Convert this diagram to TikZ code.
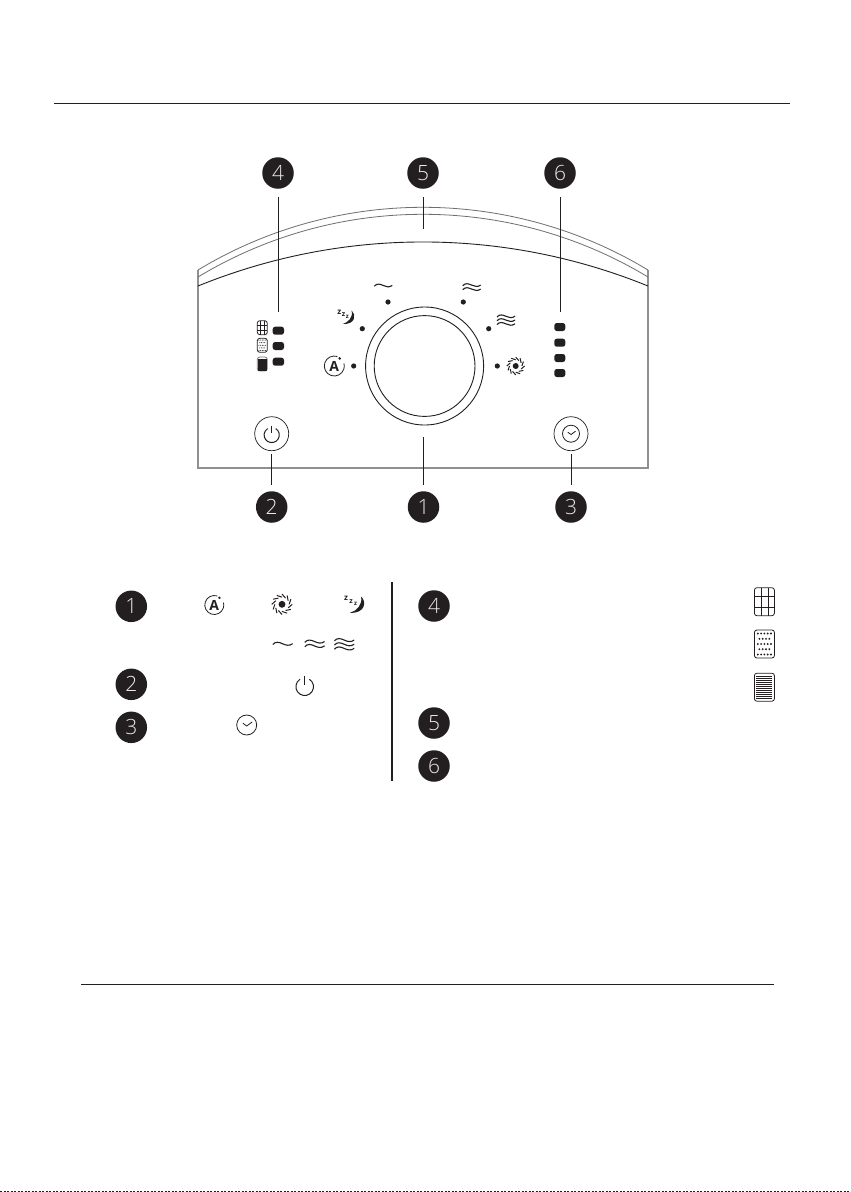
\documentclass[tikz,border=0pt]{standalone}
\usepackage{fontspec}
\setmainfont{Open Sans}[UprightFont=* Light,BoldFont=* Bold]
\definecolor{ink}{HTML}{231F20}
\tikzset{
  numdot/.style={circle,fill=ink,text=white!92!black,minimum size=31.5pt,inner sep=0pt,font=\fontsize{21}{21}\selectfont},
  lead/.style={draw=ink,line width=1pt},
  rule/.style={draw=ink,line width=0.9pt},
  thin/.style={draw=ink,line width=0.7pt},
  arcline/.style={draw=ink!65,line width=0.8pt},
  edgeline/.style={draw=ink!50,line width=1.3pt},
  led/.style={fill=ink,rounded corners=2.5pt},
  dot/.style={fill=ink}
}
\newcommand\iconA[3]{\begin{scope}[shift={(#1pt,-#2pt)},scale=#3]
  \draw[ink,line width=0.8pt] (72:10) arc[start angle=72,end angle=375,radius=10];
  \fill[ink] (5.4,7.6) circle (1.4);
  \node[inner sep=0,text=ink,font=\fontsize{14}{14}\selectfont\bfseries] at (0,-0.6) {A};
\end{scope}}
\newcommand\iconFan[3]{\begin{scope}[shift={(#1pt,-#2pt)},scale=#3]
  \fill[ink] (0,0) circle (3);
  \foreach \a in {0,30,...,330}{\draw[ink,line width=1pt] (\a:6.2) to[bend right=8] (\a+30:8.9);}
\end{scope}}
\newcommand\iconMoon[3]{\begin{scope}[shift={(#1pt,-#2pt)},scale=#3]
  \fill[ink] (6,8.5) .. controls (11.5,4) and (11,-8.5) .. (-5,-7.8) .. controls (2,-6) and (8,1) .. (6,8.5) -- cycle;
  \node[inner sep=0,text=ink,font=\fontsize{8}{8}\selectfont\bfseries] at (-9,6.2) {z};
  \node[inner sep=0,text=ink,font=\fontsize{7}{7}\selectfont\bfseries] at (-4,3.2) {z};
  \node[inner sep=0,text=ink,font=\fontsize{6}{6}\selectfont\bfseries] at (0.7,1) {z};
\end{scope}}
\newcommand\wavep[1]{(-9,-0.5+#1) .. controls (-6.5,2.5+#1) and (-3.5,1.8+#1) .. (0,0.2+#1) .. controls (3,-1.2+#1) and (6,-2+#1) .. (9,0.3+#1)}
\newcommand\iconWa[3]{\begin{scope}[shift={(#1pt,-#2pt)},scale=#3]
  \draw[ink,line width=1.1pt] \wavep{0};
\end{scope}}
\newcommand\iconWb[3]{\begin{scope}[shift={(#1pt,-#2pt)},scale=#3]
  \draw[ink,line width=1.1pt] \wavep{2} \wavep{-2};
\end{scope}}
\newcommand\iconWc[3]{\begin{scope}[shift={(#1pt,-#2pt)},scale=#3]
  \draw[ink,line width=1.1pt] \wavep{3.8} \wavep{0} \wavep{-3.8};
\end{scope}}
\newcommand\iconPower[3]{\begin{scope}[shift={(#1pt,-#2pt)},scale=#3]
  \draw[ink,line width=1pt] (58:8) arc[start angle=58,end angle=-238,radius=8];
  \draw[ink,line width=1.2pt] (0,10) -- (0,2);
\end{scope}}
\newcommand\iconClock[3]{\begin{scope}[shift={(#1pt,-#2pt)},scale=#3]
  \draw[ink,line width=0.8pt] (0,0) circle (10);
  \draw[ink,line width=0.8pt] (-3.8,1.8) -- (0,-1) -- (5.4,3);
\end{scope}}
\newcommand\iconGrid[3]{\begin{scope}[shift={(#1pt,-#2pt)},scale=#3]
  \draw[ink,line width=0.8pt,rounded corners=2.5pt] (-10,-14) rectangle (10,14);
  \draw[ink,line width=0.8pt] (-3.5,14) -- (-3.5,-14) (3.5,14) -- (3.5,-14) (-10,5) -- (10,5) (-10,-5.5) -- (10,-5.5);
\end{scope}}
\newcommand\iconHoles[3]{\begin{scope}[shift={(#1pt,-#2pt)},scale=#3]
  \draw[ink,line width=0.8pt,rounded corners=2.5pt] (-10,-14) rectangle (10,14);
  \foreach \y in {10.5,0,-10.5}{\foreach \x in {-6.6,-3.3,...,6.7}{\fill[ink] (\x,\y) circle (1.05);}}
  \foreach \y in {5.2,-5.2}{\foreach \x in {-5,-1.7,...,5.1}{\fill[ink] (\x,\y) circle (1.05);}}
\end{scope}}
\newcommand\iconLines[3]{\begin{scope}[shift={(#1pt,-#2pt)},scale=#3]
  \draw[ink,line width=0.8pt,rounded corners=2.5pt] (-10,-14) rectangle (10,14);
  \foreach \y in {-11,-9,...,11}{\draw[ink,line width=1pt] (-8,\y) -- (8,\y);}
\end{scope}}
\newcommand\iconSolid[3]{\begin{scope}[shift={(#1pt,-#2pt)},scale=#3]
  \draw[ink!60,line width=0.8pt,rounded corners=2.5pt] (-10,-14) rectangle (10,14);
  \fill[ink] (-9,-13) rectangle (9,9.5);
\end{scope}}
\begin{document}
\begin{tikzpicture}[x=1pt,y=1pt]
\useasboundingbox (0,0) rectangle (851,-1192);
\fill[white] (0,0) rectangle (851,-1192);
% page rules
\coordinate (ruleAl) at (54,-103); \coordinate (ruleAr) at (790,-103);
\coordinate (ruleBl) at (81,-984); \coordinate (ruleBr) at (774,-984);
\coordinate (edgeL) at (0,-1191.5); \coordinate (edgeR) at (851,-1191.5);
\draw[rule] (ruleAl) -- (ruleAr);
\draw[rule] (ruleBl) -- (ruleBr);
\draw[ink,line width=1pt,dash pattern=on 2pt off 1.5pt] (edgeL) -- (edgeR);
% panel
\draw[edgeline] (198,-270) -- (198,-468) -- (648,-468) -- (648,-270);
\draw[arcline] (198,-270) .. controls (336.4,-186.4) and (509.6,-186.4) .. (648,-270);
\draw[arcline] (198,-277) .. controls (336.4,-193.4) and (509.6,-193.4) .. (648,-277);
\draw[thin,line width=0.9pt] (198,-286) .. controls (342.3,-227.3) and (503.7,-227.3) .. (648,-286);
% knob
\draw[thin,line width=0.9pt] (424.6,-366) circle (59);
\draw[thin,line width=0.9pt] (424.6,-366) circle (50.4);
% selector dots
\foreach \x/\y in {353.7/366,362.3/328.7,388/302,463.3/302,488.7/328.7,497.3/366}{\fill[dot] (\x,-\y) circle (2.6);}
% panel icons
\iconA{334.3}{366}{1}
\iconMoon{346.8}{317.6}{0.82}
\iconWa{383.3}{285.7}{1}
\iconWb{471.7}{287.3}{1}
\iconWc{506}{320.3}{1}
\iconFan{515.7}{366}{1}
\iconGrid{262.3}{327.7}{0.5}
\iconHoles{262.3}{345.3}{0.5}
\iconSolid{262.3}{364}{0.5}
% LEDs
\foreach \y in {330.7,346,361.7}{\fill[led] (272.7,-\y-4) rectangle (284,-\y+4);}
\foreach \y in {327,342.7,358,373}{\fill[led] (554.3,-\y-4) rectangle (565.3,-\y+4);}
% buttons
\draw[thin] (271.7,-433.7) circle (17);
\iconPower{271.7}{435}{0.95}
\draw[thin] (571,-433.7) circle (17);
\iconClock{571}{433.7}{0.85}
% callouts
\node[numdot] (n4) at (278,-173) {4};
\node[numdot] (n5) at (423,-173) {5};
\node[numdot] (n6) at (560,-173) {6};
\node[numdot] (n2) at (271.7,-507) {2};
\node[numdot] (n1) at (423.5,-507) {1};
\node[numdot] (n3) at (571,-507) {3};
\coordinate (e4) at (278,-312); \coordinate (e5) at (423,-229); \coordinate (e6) at (560,-312);
\coordinate (e1) at (423.5,-437); \coordinate (e2) at (271.7,-454); \coordinate (e3) at (571,-454);
\draw[lead] (n4.south)+(0,-8) -- (e4);
\draw[lead] (n5.south)+(0,-8) -- (e5);
\draw[lead] (n6.south)+(0,-8) -- (e6);
\draw[lead] (n1.north)+(0,6) -- (e1);
\draw[lead] (n2.north)+(0,6) -- (e2);
\draw[lead] (n3.north)+(0,6) -- (e3);
% legend
\node[numdot] (l1) at (131.3,-606.3) {1};
\node[numdot] (l2) at (131.3,-684.3) {2};
\node[numdot] (l3) at (131.3,-727.3) {3};
\node[numdot] (l4) at (434,-606) {4};
\node[numdot] (l5) at (434,-723) {5};
\node[numdot] (l6) at (434,-766) {6};
\coordinate (divT) at (392.3,-582); \coordinate (divB) at (392.3,-781);
\draw[ink,line width=2pt] (divT) -- (divB);
\iconA{214.3}{605}{0.95}
\iconFan{282}{604.3}{1.15}
\iconMoon{355}{605}{1}
\iconWa{282.7}{644}{1.1}
\iconWb{314.7}{644}{1.1}
\iconWc{344.3}{644.5}{1.1}
\iconPower{304.7}{686.7}{1.1}
\iconClock{246.7}{725}{1}
\iconGrid{764.4}{601.7}{1}
\iconHoles{764.4}{644}{1}
\iconLines{764.4}{687.2}{1}
\end{tikzpicture}
\end{document}
